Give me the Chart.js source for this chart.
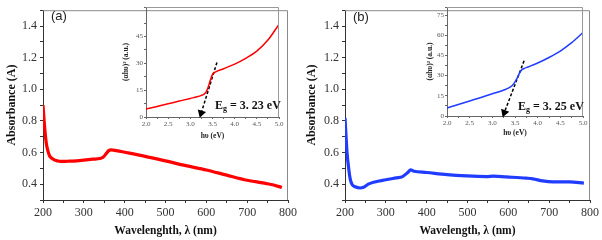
<!DOCTYPE html>
<html>
<head>
<meta charset="utf-8">
<script src="https://cdn.jsdelivr.net/npm/chart.js@4.4.0/dist/chart.umd.min.js"></script>
<style>
    body { margin: 0; background: #fff; }
    #wrap { position: relative; width: 602px; height: 240px; }
    canvas, .lbl { position: absolute; }
    .panel { font-family: "Liberation Sans", Arial, sans-serif; font-size: 13px; color: #222; }
    .eg { font-family: "Liberation Serif", serif; font-weight: bold; font-size: 12px; color: #111; white-space: nowrap; }
    .eg sub { font-size: 8px; vertical-align: -2px; }
</style>
</head>
<body>
<div id="wrap">
    <canvas id="mainA" width="300" height="240" style="left:0;top:0"></canvas>
    <canvas id="mainB" width="302" height="240" style="left:300px;top:0"></canvas>
    <canvas id="insetA" width="165" height="145" style="left:120px;top:0"></canvas>
    <canvas id="insetB" width="170" height="145" style="left:420px;top:0"></canvas>
    <div class="lbl panel" style="left:51px;top:8px">(a)</div>
    <div class="lbl panel" style="left:353px;top:9px">(b)</div>
    <div class="lbl eg" style="left:215px;top:98px">E<sub>g</sub> = 3. 23 eV</div>
    <div class="lbl eg" style="left:518px;top:99px">E<sub>g</sub> = 3. 25 eV</div>
</div>
<script>
// panel (a) absorbance
const wavelengthA = [200, 204, 208, 212, 216, 220, 224, 232, 240, 249, 260, 274, 300, 322, 339, 347, 355, 361, 367, 380, 400, 450, 500, 550, 600, 650, 700, 720, 745, 765, 785];
const absorbanceA = [0.90, 0.76, 0.66, 0.61, 0.58, 0.567, 0.56, 0.549, 0.545, 0.544, 0.545, 0.546, 0.552, 0.558, 0.562, 0.57, 0.594, 0.612, 0.617, 0.612, 0.602, 0.576, 0.547, 0.517, 0.49, 0.457, 0.425, 0.416, 0.405, 0.395, 0.379];

// panel (b) absorbance
const wavelengthB = [200, 205, 209, 213, 217, 225, 237, 245, 257, 273, 300, 325, 341, 353, 361, 369, 400, 450, 498, 547, 563, 595, 644, 660, 684, 709, 750, 785];
const absorbanceB = [0.82, 0.60, 0.50, 0.43, 0.40, 0.384, 0.376, 0.38, 0.40, 0.414, 0.428, 0.44, 0.448, 0.472, 0.49, 0.482, 0.474, 0.46, 0.452, 0.448, 0.451, 0.446, 0.438, 0.434, 0.421, 0.415, 0.415, 0.407];

// insets, (alpha h nu)^2 against photon energy
const energyA = [2.0, 2.25, 2.5, 2.75, 3.0, 3.15, 3.25, 3.3, 3.35, 3.4, 3.45, 3.5, 3.55, 3.75, 4.0, 4.25, 4.5, 4.75, 5.0];
const taucA = [4.4, 5.9, 7.4, 8.9, 10.4, 11.3, 12.1, 12.7, 13.8, 16.5, 20.5, 23.8, 24.9, 27.0, 29.6, 32.8, 36.8, 43.0, 51.8];
const energyB = [2.0, 2.25, 2.5, 2.75, 3.0, 3.2, 3.3, 3.4, 3.45, 3.5, 3.55, 3.6, 3.65, 3.7, 3.8, 4.0, 4.25, 4.5, 4.75, 5.0];
const taucB = [6.0, 8.6, 11.2, 13.8, 16.5, 18.6, 19.9, 21.6, 23.0, 25.3, 28.4, 31.8, 34.3, 35.3, 36.6, 39.4, 43.5, 48.3, 54.5, 62.0];

// dashed tangent lines: [x start, x end], [y start, y end]
const tangentA = { x: [3.6, 3.245], y: [30.5, 2.2] };
const tangentB = { x: [3.7, 3.265], y: [41, 2.6] };

const serif = '"Liberation Serif", "Times New Roman", serif';

const framePlugin = {
    id: 'frame',
    afterDraw(chart, args, opts) {
        const a = chart.chartArea;
        const ctx = chart.ctx;
        ctx.save();
        ctx.strokeStyle = opts.color || '#888';
        ctx.lineWidth = 1;
        ctx.beginPath();
        ctx.moveTo(a.left, a.top + 0.5);
        ctx.lineTo(a.right - 0.5, a.top + 0.5);
        ctx.lineTo(a.right - 0.5, a.bottom);
        ctx.stroke();
        ctx.restore();
    }
};

function toPoints(xs, ys) {
    return xs.map((x, i) => ({ x: x, y: ys[i] }));
}

function mainChart(id, xs, ys, color, xTitle, yWidth, padRight) {
    const ctx = document.getElementById(id).getContext('2d');
    return new Chart(ctx, {
        type: 'line',
        data: {
            datasets: [{
                data: toPoints(xs, ys),
                borderColor: color,
                borderWidth: 3.2,
                pointRadius: 0,
                cubicInterpolationMode: 'monotone',
            }]
        },
        options: {
            responsive: false,
            animation: false,
            layout: { padding: { top: 2, right: padRight } },
            plugins: { legend: { display: false }, tooltip: { enabled: false }, frame: { color: '#8a8a8a' } },
            scales: {
                x: {
                    type: 'linear', min: 200, max: 800,
                    afterFit: s => { s.height = 40; },
                    grid: { drawOnChartArea: false, tickLength: 3, color: '#333' },
                    border: { color: '#333' },
                    ticks: {
                        stepSize: 50, autoSkip: false, maxRotation: 0, padding: 3,
                        color: '#333', font: { family: serif, size: 12 },
                        callback: v => (v % 100 === 0 ? v : '')
                    },
                    title: { display: true, text: xTitle, color: '#111', font: { family: serif, size: 11.5, weight: 'bold' }, padding: { top: 0, bottom: 2 } }
                },
                y: {
                    type: 'linear', min: 0.3, max: 1.5,
                    afterFit: s => { s.width = yWidth; },
                    grid: { drawOnChartArea: false, tickLength: 3, color: '#333' },
                    border: { color: '#333' },
                    ticks: {
                        stepSize: 0.1, autoSkip: false, padding: 3,
                        color: '#333', font: { family: serif, size: 12 },
                        callback: v => {
                            const n = Math.round(v * 10);
                            return (n % 2 === 0 && n >= 4 && n <= 14) ? (n / 10).toFixed(1) : '';
                        }
                    },
                    title: { display: true, text: 'Absorbance (A)', color: '#111', font: { family: serif, size: 12, weight: 'bold' }, padding: { top: 5, bottom: 0 } }
                }
            }
        },
        plugins: [framePlugin]
    });
}

function insetChart(id, xs, ys, color, tangent, yMax, yWidth, padTop, padRight, xHeight, titlePad, xTitlePad, arrowRot) {
    const ctx = document.getElementById(id).getContext('2d');
    return new Chart(ctx, {
        type: 'line',
        data: {
            datasets: [{
                data: toPoints(xs, ys),
                borderColor: color,
                borderWidth: 1.5,
                pointRadius: 0,
                cubicInterpolationMode: 'monotone',
            }, {
                data: toPoints(tangent.x, tangent.y),
                borderColor: '#000',
                backgroundColor: '#000',
                borderWidth: 1.5,
                borderDash: [3, 2],
                pointStyle: 'triangle',
                pointRotation: arrowRot,
                pointRadius: c => (c.dataIndex === 1 ? 3.5 : 0),
                clip: false,
            }]
        },
        options: {
            responsive: false,
            animation: false,
            layout: { padding: { top: padTop, right: padRight } },
            plugins: { legend: { display: false }, tooltip: { enabled: false }, frame: { color: '#999' } },
            scales: {
                x: {
                    type: 'linear', min: 2, max: 5,
                    afterFit: s => { s.height = xHeight; },
                    grid: { drawOnChartArea: false, tickLength: 2, color: '#666' },
                    border: { color: '#666' },
                    ticks: {
                        stepSize: 0.25, autoSkip: false, maxRotation: 0, padding: 1,
                        color: '#555', font: { family: serif, size: 7 },
                        callback: v => (Math.round(v * 4) % 2 === 0 ? v.toFixed(1) : '')
                    },
                    title: { display: true, text: 'hυ (eV)', color: '#222', font: { family: serif, size: 7.5, weight: 'bold' }, padding: { top: 0, bottom: xTitlePad } }
                },
                y: {
                    type: 'linear', min: 0, max: yMax,
                    afterFit: s => { s.width = yWidth; },
                    grid: { drawOnChartArea: false, tickLength: 2, color: '#666' },
                    border: { color: '#666' },
                    ticks: {
                        stepSize: 7.5, autoSkip: false, padding: 1,
                        color: '#555', font: { family: serif, size: 7 },
                        callback: v => (v % 15 === 0 ? v : '')
                    },
                    title: { display: true, text: '(αhυ)² (a.u.)', color: '#222', font: { family: serif, size: 7.5, weight: 'bold' }, padding: { top: titlePad, bottom: 0 } }
                }
            }
        },
        plugins: [framePlugin]
    });
}

mainChart('mainA', wavelengthA, absorbanceA, '#ff0000', 'Wavelenghth, λ (nm)', 43, 12);
mainChart('mainB', wavelengthB, absorbanceB, '#1f3cff', 'Wavelength, λ (nm)', 45, 10);
insetChart('insetA', energyA, taucA, '#ff0000', tangentA, 61.5, 26, 7, 6, 28, 2, 4, 197);
insetChart('insetB', energyB, taucB, '#1f3cff', tangentB, 81, 27, 7, 7, 29, 6, 7, 200);
</script>
</body>
</html>
